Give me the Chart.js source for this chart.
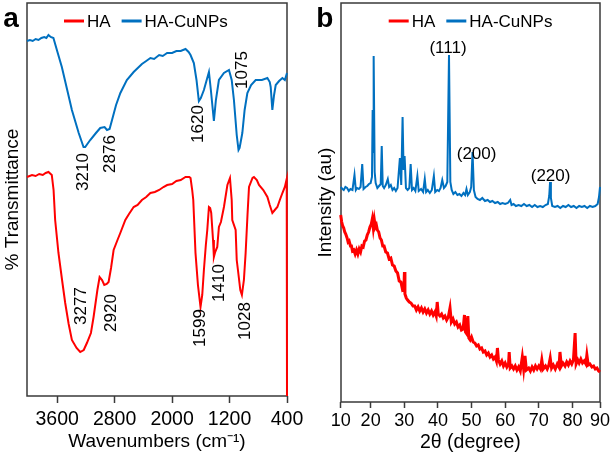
<!DOCTYPE html>
<html>
<head>
<meta charset="utf-8">
<script src="https://cdn.jsdelivr.net/npm/chart.js@4.4.1/dist/chart.umd.min.js"></script>
<style>
  body { margin: 0; background: #fff; }
  canvas { position: absolute; left: 0; top: 0; }
</style>
</head>
<body>
<canvas id="ftirChart" width="613" height="455"></canvas>
<canvas id="xrdChart" width="613" height="455"></canvas>
<script>
// ---- panel a: FTIR, [wavenumber, transmittance (au)] ----
const ftirHA = [
  [4020, 219], [3950, 221], [3900, 220], [3850, 222], [3800, 221], [3760, 223], [3721, 224], [3690, 222],
  [3675, 221], [3650, 206], [3628, 176], [3582, 143], [3530, 115], [3488, 93], [3440, 72], [3395, 56],
  [3330, 48], [3279, 44], [3230, 46], [3186, 53], [3130, 63], [3093, 79], [3040, 106], [3009, 119],
  [2975, 116], [2944, 111], [2910, 112], [2884, 114], [2850, 128], [2814, 146], [2760, 156], [2721, 163],
  [2651, 176], [2600, 182], [2535, 189], [2480, 191], [2420, 196], [2360, 199], [2302, 203], [2240, 204],
  [2180, 206], [2120, 209], [2069, 211], [2000, 212], [1940, 215], [1880, 216], [1813, 219], [1760, 219],
  [1743, 218], [1720, 206], [1705, 196], [1674, 143], [1640, 111], [1604, 89], [1580, 101], [1557, 126],
  [1530, 151], [1510, 166], [1487, 189], [1470, 188], [1455, 183], [1430, 156], [1418, 139], [1400, 144],
  [1371, 149], [1348, 169], [1320, 174], [1278, 189], [1230, 211], [1194, 218], [1170, 196], [1162, 176],
  [1115, 166], [1100, 136], [1083, 126], [1050, 106], [1028, 101], [1000, 116], [976, 143], [950, 181],
  [929, 209], [880, 218], [860, 219], [820, 216], [790, 211], [730, 206], [673, 199], [640, 191],
  [604, 183], [570, 186], [534, 189], [500, 196], [464, 203], [430, 209], [404, 217], [400, 0]
];
const ftirCu = [
  [4020, 355], [3980, 356], [3940, 355], [3900, 357], [3860, 356], [3820, 358], [3780, 359], [3750, 358],
  [3721, 361], [3690, 359], [3652, 358], [3600, 345], [3535, 329], [3460, 306], [3395, 286], [3300, 263],
  [3233, 249], [3210, 249], [3140, 256], [3060, 263], [3000, 268], [2940, 269], [2906, 266], [2870, 267],
  [2836, 276], [2780, 291], [2720, 303], [2630, 316], [2535, 324], [2420, 332], [2360, 335], [2302, 338],
  [2250, 337], [2180, 341], [2130, 340], [2069, 343], [2000, 343], [1940, 345], [1880, 345], [1813, 347],
  [1770, 344], [1743, 341], [1697, 333], [1660, 316], [1627, 295], [1600, 298], [1557, 306], [1487, 324],
  [1460, 306], [1418, 275], [1390, 296], [1348, 316], [1278, 323], [1208, 326], [1170, 316], [1139, 296],
  [1100, 261], [1075, 246], [1060, 248], [1022, 263], [990, 286], [952, 303], [900, 311], [836, 316],
  [750, 316], [673, 318], [640, 314], [627, 309], [604, 286], [580, 301], [557, 311], [510, 315],
  [464, 318], [430, 316], [400, 323]
];
const ftirTicks = [3600, 2800, 2000, 1200, 400];
// peak labels: [text, wavenumber, transmittance] for the label centre
const ftirPeaks = [
  ['3210', 3233, 224], ['2876', 2856, 242], ['1620', 1641, 272], ['1075', 1017, 326],
  ['3277', 3265, 90], ['2920', 2846, 83], ['1599', 1600, 68], ['1410', 1344, 113], ['1028', 985, 75]
];

// ---- panel b: XRD, [2theta, intensity (au)] ----
const xrdCu = [
  [11.1, 215], [11.6, 213], [12, 212], [12.5, 215], [13, 214], [13.5, 211], [14, 213], [14.6, 212],
  [15.2, 227], [15.6, 212], [16, 214], [16.5, 213], [17, 215], [17.5, 238], [17.9, 213], [18.5, 215],
  [19, 216], [19.5, 218], [20, 219], [20.4, 225], [20.6, 292], [20.75, 250], [20.9, 346], [21.2, 230],
  [21.5, 219], [22, 214], [22.5, 216], [23, 218], [23.3, 256], [23.6, 216], [24, 214], [24.5, 217],
  [25.1, 223], [25.5, 215], [26, 217], [26.5, 212], [27, 214], [27.5, 211], [28, 214], [28.7, 244],
  [29.1, 217], [29.5, 285], [29.8, 232], [30.1, 246], [30.5, 214], [31, 212], [31.5, 214], [31.9, 238],
  [32.3, 212], [32.8, 214], [33.3, 211], [33.9, 226], [34.3, 211], [35, 213], [35.6, 210], [36.1, 223],
  [36.5, 210], [37, 212], [37.6, 209], [38.2, 212], [38.8, 226], [39.2, 210], [39.8, 212], [40.3, 211],
  [40.8, 214], [41.3, 222], [41.8, 214], [42.3, 216], [42.8, 220], [43.3, 347], [43.7, 220], [44.1, 212],
  [44.6, 208], [45.2, 210], [45.8, 207], [46.4, 208], [47, 206], [47.6, 209], [48.1, 207], [48.5, 213],
  [48.9, 207], [49.5, 210], [49.9, 215], [50.3, 250], [50.7, 212], [51.2, 205], [51.8, 203], [52.5, 202],
  [53.2, 204], [54, 201], [54.8, 202], [55.5, 200], [56.2, 201], [57, 199], [57.8, 200], [58.5, 198],
  [59.2, 199], [60, 198], [60.8, 199], [61.5, 202], [61.9, 197], [62.5, 198], [63.2, 196], [64, 197],
  [64.8, 196], [65.6, 198], [66.4, 196], [67.2, 197], [68, 195], [68.8, 197], [69.6, 195], [70.4, 196],
  [71.2, 195], [72, 197], [72.7, 198], [73.1, 206], [73.35, 220], [73.6, 204], [74, 196], [74.8, 195],
  [75.6, 196], [76.4, 194], [77.2, 196], [78, 195], [78.8, 197], [79.6, 195], [80.4, 196], [81.2, 194],
  [82, 196], [82.8, 195], [83.6, 196], [84.4, 194], [85.2, 196], [86, 195], [86.8, 196], [87.5, 198],
  [87.9, 205], [88.2, 215]
];
const xrdHA = [
  [11.1, 187], [11.4, 180], [11.7, 176], [12, 174], [12.3, 170], [12.6, 168], [13, 164], [13.3, 160],
  [13.6, 161], [14, 156], [14.3, 156], [14.6, 151], [15, 152], [15.4, 148], [15.8, 152], [16.2, 148],
  [16.6, 153], [17, 150], [17.4, 156], [17.8, 155], [18.2, 161], [18.6, 162], [19, 167], [19.4, 170],
  [19.8, 175], [20.2, 178], [20.5, 183], [20.8, 174], [21.1, 182], [21.4, 175], [21.7, 177], [22, 172],
  [22.4, 170], [22.8, 164], [23.2, 162], [23.6, 156], [24, 156], [24.5, 150], [25, 149], [25.5, 143],
  [26, 144], [26.5, 137], [27, 136], [27.5, 131], [28, 129], [28.5, 121], [29, 120], [29.5, 112],
  [29.9, 113], [30.05, 130], [30.2, 108], [30.6, 104], [31, 102], [31.5, 100], [32, 99], [32.6, 96],
  [33.1, 96], [33.6, 92], [34.1, 95], [34.6, 91], [35.1, 94], [35.6, 90], [36.1, 93], [36.6, 89],
  [37.1, 92], [37.6, 88], [38.1, 91], [38.6, 87], [39.1, 90], [39.5, 86], [39.8, 100], [40.1, 88],
  [40.6, 86], [41.1, 88], [41.6, 84], [42.1, 86], [42.6, 82], [43.1, 85], [43.6, 94], [44, 80],
  [44.5, 83], [45, 78], [45.5, 80], [46, 75], [46.5, 77], [47, 72], [47.5, 73], [47.9, 87],
  [48.2, 70], [48.6, 68], [48.9, 86], [49.2, 64], [49.6, 62], [50, 65], [50.5, 60], [51, 59],
  [51.5, 56], [52, 57], [52.5, 53], [53, 54], [53.5, 50], [54, 51], [54.5, 47], [55, 49],
  [55.5, 45], [56, 47], [56.5, 43], [57, 45], [57.4, 41], [57.7, 54], [58, 42], [58.5, 38],
  [59, 41], [59.5, 36], [60, 39], [60.5, 35], [61, 38], [61.2, 50], [61.5, 34], [62, 36],
  [62.5, 33], [63, 36], [63.5, 32], [64, 35], [64.5, 31], [65.1, 45], [65.5, 33], [65.9, 46],
  [66.3, 32], [67, 34], [67.5, 31], [68, 35], [68.5, 32], [69, 36], [69.5, 33], [70, 36],
  [70.5, 33], [70.9, 42], [71.3, 33], [72, 36], [72.5, 33], [73, 37], [73.4, 44], [73.8, 34],
  [74.3, 37], [74.9, 33], [75.5, 38], [76, 35], [76.3, 50], [76.7, 36], [77.2, 39], [77.8, 36],
  [78.3, 40], [78.8, 37], [79.3, 41], [79.8, 38], [80.3, 42], [80.8, 69], [81.1, 38], [81.6, 42],
  [82, 39], [82.5, 43], [83, 39], [83.5, 41], [84, 38], [84.3, 47], [84.7, 37], [85.2, 38],
  [85.8, 35], [86.3, 36], [86.8, 33], [87.3, 34], [87.8, 31], [88.2, 30]
];
const xrdTicks = [10, 20, 30, 40, 50, 60, 70, 80, 90];
const xrdPeaks = [['(111)', 43.0, 354], ['(200)', 51.5, 248], ['(220)', 73.5, 226]];

const seriesNames = ['HA', 'HA-CuNPs'];
const RED = '#ff0000';
const BLUE = '#0070c0';
const AXIS = '#3a3a3a';
const FONT = 'Arial, "Liberation Sans", sans-serif';

const toXY = arr => arr.map(p => ({ x: p[0], y: p[1] }));

// frame, legend with short lines, panel letter and peak labels
const decorPlugin = {
  id: 'decor',
  beforeDatasetsDraw(chart) {
    const { ctx, chartArea: a } = chart;
    const l = Math.round(a.left), t = Math.round(a.top);
    const r = Math.round(a.right), b = Math.round(a.bottom);
    ctx.save();
    ctx.strokeStyle = AXIS;
    ctx.lineWidth = 1.5;
    ctx.beginPath();
    ctx.moveTo(l, t);
    ctx.lineTo(r, t);
    ctx.lineTo(r, b);
    ctx.lineTo(l, b);
    ctx.closePath();
    ctx.stroke();
    ctx.restore();
  },
  afterDatasetsDraw(chart, args, opts) {
    const { ctx, chartArea: a, scales } = chart;
    ctx.save();
    // panel letter
    ctx.fillStyle = '#000';
    ctx.font = 'bold 28px ' + FONT;
    ctx.textAlign = 'center';
    ctx.textBaseline = 'alphabetic';
    ctx.fillText(opts.letter, a.left - 16, 27);
    // legend
    ctx.font = '17px ' + FONT;
    ctx.textAlign = 'left';
    ctx.textBaseline = 'middle';
    let x = a.left + opts.legendOffset;
    const y = 21;
    chart.data.datasets.forEach(ds => {
      ctx.strokeStyle = ds.borderColor;
      ctx.lineWidth = 3;
      ctx.beginPath();
      ctx.moveTo(x, y);
      ctx.lineTo(x + 20, y);
      ctx.stroke();
      x += 23;
      ctx.fillStyle = '#000';
      ctx.fillText(ds.label, x, y + 1);
      x += ctx.measureText(ds.label).width + 11;
    });
    // peak labels
    ctx.font = '17px ' + FONT;
    ctx.textAlign = 'center';
    ctx.textBaseline = 'middle';
    ctx.fillStyle = '#000';
    opts.peaks.forEach(p => {
      const px = scales.x.getPixelForValue(p[1]);
      const py = scales.y.getPixelForValue(p[2]);
      ctx.save();
      ctx.translate(px, py);
      if (opts.rotate) ctx.rotate(-Math.PI / 2);
      ctx.fillText(p[0], 0, 0);
      ctx.restore();
    });
    ctx.restore();
  }
};

function makeLine(label, data, color, width) {
  return {
    label: label,
    data: toXY(data),
    borderColor: color,
    backgroundColor: color,
    borderWidth: width,
    pointRadius: 0,
    tension: 0,
    clip: false
  };
}

// panel a
new Chart(document.getElementById('ftirChart'), {
  type: 'line',
  data: {
    datasets: [
      makeLine(seriesNames[0], ftirHA, RED, 2),
      makeLine(seriesNames[1], ftirCu, BLUE, 2)
    ]
  },
  options: {
    responsive: false,
    animation: false,
    devicePixelRatio: 1,
    layout: { padding: { left: 1, right: 326, top: 3, bottom: 0 } },
    plugins: {
      legend: { display: false },
      tooltip: { enabled: false },
      decor: { letter: 'a', legendOffset: 37, peaks: ftirPeaks, rotate: true }
    },
    scales: {
      x: {
        type: 'linear',
        reverse: true,
        min: 400,
        max: 4020,
        afterBuildTicks: s => { s.ticks = ftirTicks.map(v => ({ value: v })); },
        afterFit: s => { s.height = 59; s.paddingLeft = 0; s.paddingRight = 0; },
        grid: { drawOnChartArea: false, drawTicks: true, tickLength: 7, tickWidth: 1.5, color: AXIS },
        border: { display: false },
        ticks: {
          color: '#000', font: { size: 19.5, family: FONT }, padding: 5, maxRotation: 0,
          callback: v => String(v)
        },
        title: {
          display: true, text: 'Wavenumbers (cm⁻¹)', color: '#000',
          font: { size: 19, family: FONT }, padding: { top: 0, bottom: 2 }
        }
      },
      y: {
        min: 0,
        max: 393,
        afterFit: s => { s.width = 26; },
        grid: { display: false },
        border: { display: false },
        ticks: { display: false },
        title: {
          display: true, text: '% Transmittance', color: '#000',
          font: { size: 19, family: FONT }, padding: { top: 0, bottom: 0 }
        }
      }
    }
  },
  plugins: [decorPlugin]
});

// panel b
new Chart(document.getElementById('xrdChart'), {
  type: 'line',
  data: {
    datasets: [
      makeLine(seriesNames[0], xrdHA, RED, 3),
      makeLine(seriesNames[1], xrdCu, BLUE, 2)
    ]
  },
  options: {
    responsive: false,
    animation: false,
    devicePixelRatio: 1,
    layout: { padding: { left: 314, right: 13, top: 3, bottom: 0 } },
    plugins: {
      legend: { display: false },
      tooltip: { enabled: false },
      decor: { letter: 'b', legendOffset: 48, peaks: xrdPeaks, rotate: false }
    },
    scales: {
      x: {
        type: 'linear',
        min: 11.1,
        max: 88.2,
        afterBuildTicks: s => {
          s.ticks = xrdTicks.map(v => ({ value: Math.min(Math.max(v, s.min), s.max) }));
        },
        afterFit: s => { s.height = 53; s.paddingLeft = 0; s.paddingRight = 0; },
        grid: { drawOnChartArea: false, drawTicks: true, tickLength: 6, tickWidth: 1.5, color: AXIS },
        border: { display: false },
        ticks: {
          color: '#000', font: { size: 18, family: FONT }, padding: 2, maxRotation: 0,
          callback: (v, i) => String(xrdTicks[i])
        },
        title: {
          display: true, text: '2θ (degree)', color: '#000',
          font: { size: 19.5, family: FONT }, padding: { top: 0, bottom: 1 }
        }
      },
      y: {
        min: 0,
        max: 399,
        afterFit: s => { s.width = 26.7; },
        grid: { display: false },
        border: { display: false },
        ticks: { display: false },
        title: {
          display: true, text: 'Intensity (au)', color: '#000',
          font: { size: 19, family: FONT }, padding: { top: 0, bottom: 0 }
        }
      }
    }
  },
  plugins: [decorPlugin]
});
</script>
</body>
</html>
